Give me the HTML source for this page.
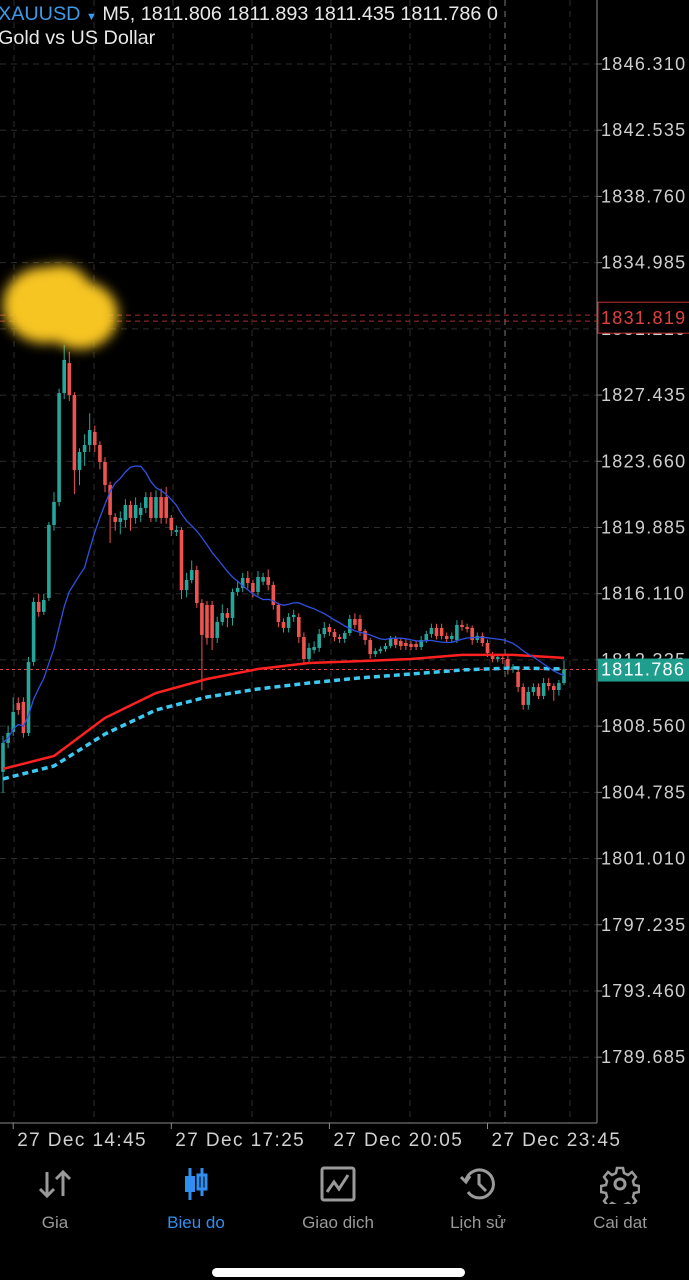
<!DOCTYPE html>
<html><head><meta charset="utf-8"><style>
html,body{margin:0;padding:0;background:#000;width:689px;height:1280px;overflow:hidden;font-family:"Liberation Sans",sans-serif}
svg{position:absolute;left:0;top:0}
.nav{position:absolute;top:1164px;width:120px;text-align:center;color:#9a9a9a;font-size:17px}
</style></head><body>
<svg id="chart" width="689" height="1280">
<defs><filter id="blur" x="-50%" y="-50%" width="200%" height="200%"><feGaussianBlur stdDeviation="6"/></filter></defs>
<g id="grid"></g><g id="lines"></g><g id="candles"></g><g id="mas"></g><g id="labels"></g>
</svg>
<div style="position:absolute;left:-2px;top:3px;font-size:19.8px;color:#e8e8e8;white-space:nowrap">
<span style="color:#3d9ae8">XAUUSD <span style="font-size:11px">▼</span></span> M5, 1811.806 1811.893 1811.435 1811.786 0<br>
<span style="line-height:24px">Gold vs US Dollar</span></div>

<div class="nav" style="left:-5px"><svg width="40" height="40" viewBox="0 0 40 40" style="position:static"><path d="M12 8v24M5 25l7 7 7-7M28 32V8M21 15l7-7 7 7" stroke="#9a9a9a" stroke-width="3" fill="none"/></svg><div style="margin-top:4px">Gia</div></div>
<div class="nav" style="left:136px;color:#2f8ef0"><svg width="40" height="40" viewBox="0 0 40 40" style="position:static"><path d="M14 4v32M26 4v28" stroke="#2f8ef0" stroke-width="3"/><rect x="9" y="12" width="10" height="16" fill="#2f8ef0"/><rect x="22" y="11" width="8" height="14" fill="none" stroke="#2f8ef0" stroke-width="3"/></svg><div style="margin-top:4px">Bieu do</div></div>
<div class="nav" style="left:278px"><svg width="40" height="40" viewBox="0 0 40 40" style="position:static"><rect x="4" y="4" width="32" height="32" rx="2" fill="none" stroke="#9a9a9a" stroke-width="3"/><path d="M9 28l7-10 5 7 9-14" stroke="#9a9a9a" stroke-width="3" fill="none"/></svg><div style="margin-top:4px">Giao dich</div></div>
<div class="nav" style="left:418px"><svg width="40" height="40" viewBox="0 0 40 40" style="position:static"><path d="M8 16A14 14 0 1 1 10 28" stroke="#9a9a9a" stroke-width="3" fill="none"/><path d="M3 13l5 5 4-6" stroke="#9a9a9a" stroke-width="3" fill="none"/><path d="M21 10v10l7 7" stroke="#9a9a9a" stroke-width="3" fill="none"/></svg><div style="margin-top:4px">Lịch sử</div></div>
<div class="nav" style="left:560px"><svg width="40" height="40" viewBox="0 0 40 40" style="position:static"><circle cx="20" cy="20" r="5" fill="none" stroke="#9a9a9a" stroke-width="3"/><path d="M17 4h6l1 5 4 2 4-3 4 5-3 4 1 4 5 1v6l-5 1-1 4 3 4-4 5-4-3-4 2-1 5h-6l-1-5-4-2-4 3-4-5 3-4-1-4-5-1v-6l5-1 1-4-3-4 4-5 4 3 4-2z" fill="none" stroke="#9a9a9a" stroke-width="2.5"/></svg><div style="margin-top:4px">Cai dat</div></div>
<div style="position:absolute;left:212px;top:1268px;width:253px;height:9px;border-radius:5px;background:#fff"></div>
<script>
const tickLabels=["1846.310","1842.535","1838.760","1834.985","1831.210","1827.435","1823.660","1819.885","1816.110","1812.335","1808.560","1804.785","1801.010","1797.235","1793.460","1789.685"];
const timeLabels=["27 Dec 14:45","27 Dec 17:25","27 Dec 20:05","27 Dec 23:45"];
const timeIdx=[2,33,64,95];
const opens=[1805.95,1807.60,1808.23,1809.88,1809.94,1808.17,1812.22,1815.64,1815.07,1815.87,1820.03,1821.34,1827.55,1829.26,1827.44,1823.16,1824.19,1824.59,1825.33,1824.59,1823.62,1822.31,1820.48,1820.20,1820.31,1821.17,1820.43,1820.60,1821.00,1821.62,1820.43,1821.62,1821.62,1820.43,1819.63,1819.74,1816.32,1816.89,1817.46,1815.58,1815.47,1815.47,1813.59,1814.50,1815.01,1814.73,1816.21,1816.44,1817.01,1816.72,1816.21,1816.80,1817.06,1816.61,1815.47,1814.50,1814.16,1814.78,1814.78,1813.64,1812.39,1812.90,1813.02,1813.81,1814.21,1813.93,1813.64,1813.53,1813.87,1814.67,1814.67,1813.99,1813.47,1812.67,1812.84,1812.95,1813.13,1813.53,1813.41,1813.30,1813.24,1813.24,1813.07,1813.47,1813.81,1814.16,1814.16,1813.70,1813.53,1813.47,1814.33,1814.21,1814.16,1813.47,1813.70,1813.30,1812.62,1812.39,1812.45,1812.39,1811.80,1811.65,1810.79,1809.77,1810.51,1810.79,1810.28,1811.02,1810.85,1810.62,1811.02];
const closes=[1807.60,1808.17,1809.37,1809.48,1808.17,1812.22,1815.64,1815.07,1815.75,1820.03,1821.34,1827.55,1829.44,1827.44,1823.16,1824.19,1824.59,1825.44,1824.59,1823.62,1822.31,1820.60,1820.20,1820.43,1821.17,1820.43,1821.17,1821.00,1821.62,1820.43,1821.62,1820.43,1820.43,1819.74,1819.74,1816.32,1816.89,1817.46,1815.58,1813.76,1813.59,1813.59,1814.50,1815.01,1814.73,1816.21,1816.44,1817.01,1816.72,1816.21,1817.06,1817.06,1816.61,1815.47,1814.50,1814.16,1814.78,1814.90,1813.64,1812.39,1813.02,1813.07,1813.81,1814.16,1813.93,1813.64,1813.53,1813.87,1814.67,1814.33,1813.99,1813.47,1812.67,1812.84,1812.95,1813.13,1813.53,1813.19,1813.13,1813.13,1813.07,1813.07,1813.47,1813.81,1814.16,1813.70,1813.70,1813.53,1813.70,1814.33,1814.21,1814.10,1813.47,1813.70,1813.30,1812.73,1812.39,1812.50,1812.39,1811.88,1811.95,1810.79,1809.77,1810.51,1810.79,1810.28,1811.02,1810.85,1810.62,1811.02,1811.79];
const highs=[1808.0,1808.6,1810.2,1810.2,1810.2,1812.5,1815.9,1816.1,1816.1,1820.2,1821.9,1827.8,1830.3,1829.9,1827.6,1824.4,1825.2,1826.4,1825.7,1824.8,1823.9,1822.5,1820.7,1820.8,1821.5,1821.4,1821.6,1821.3,1821.9,1821.9,1822.0,1822.1,1822.2,1820.6,1820.0,1819.9,1817.3,1818.0,1817.7,1815.8,1815.7,1815.7,1814.8,1815.5,1815.3,1816.4,1816.8,1817.3,1817.4,1816.9,1817.4,1817.3,1817.5,1816.8,1815.6,1814.7,1815.0,1815.2,1815.0,1813.9,1813.3,1813.4,1814.1,1814.5,1814.4,1814.1,1813.8,1814.0,1814.9,1815.0,1814.9,1814.1,1813.6,1813.0,1813.1,1813.3,1813.7,1813.7,1813.6,1813.5,1813.4,1813.4,1813.7,1814.0,1814.4,1814.4,1814.4,1813.9,1813.9,1814.6,1814.6,1814.4,1814.3,1813.9,1813.9,1813.5,1812.8,1812.7,1812.6,1812.6,1812.1,1811.8,1811.0,1810.8,1811.0,1811.0,1811.3,1811.3,1811.0,1811.2,1812.3];
const lows=[1804.75,1807.3,1808.0,1809.2,1807.9,1808.0,1812.0,1814.8,1814.9,1815.7,1819.7,1821.1,1827.2,1827.1,1821.8,1822.3,1823.4,1824.2,1824.2,1823.2,1821.9,1819.0,1819.7,1819.5,1819.9,1819.7,1820.1,1820.2,1820.7,1820.2,1820.2,1820.1,1820.1,1819.4,1819.4,1815.8,1815.9,1816.7,1815.3,1810.6,1813.2,1812.9,1813.3,1814.3,1814.2,1814.3,1816.0,1816.2,1816.4,1815.9,1816.0,1816.6,1816.3,1815.2,1814.2,1813.9,1813.9,1814.5,1813.3,1812.1,1812.2,1812.7,1812.8,1813.6,1813.7,1813.4,1813.3,1813.3,1813.7,1814.1,1813.7,1813.2,1812.4,1812.5,1812.7,1812.8,1813.0,1813.0,1812.9,1812.9,1812.9,1812.9,1812.9,1813.3,1813.6,1813.5,1813.5,1813.3,1813.3,1813.3,1814.0,1813.9,1813.2,1813.3,1813.1,1812.5,1812.2,1812.2,1812.1,1811.5,1811.6,1810.5,1809.5,1809.5,1810.3,1810.1,1810.1,1810.6,1810.0,1810.3,1810.9];
const maRed=[1806.12,1806.86,1809.03,1810.45,1811.25,1811.82,1812.16,1812.27,1812.39,1812.62,1812.62,1812.45];
const maCyan=[1805.55,1806.29,1808.11,1809.48,1810.22,1810.68,1811.02,1811.31,1811.53,1811.76,1811.88,1811.82];
const maStep=10, blueN=17;
const lastPrice=1811.786, alertPrice=1831.819;

const NS="http://www.w3.org/2000/svg";
const yOf=p=>64+(1846.31-p)*17.54;
const xOf=i=>3+i*5.1;
const FONT='Liberation Sans, sans-serif';
function mk(parent,tag,attrs){const e=document.createElementNS(NS,tag);for(const k in attrs)e.setAttribute(k,attrs[k]);document.getElementById(parent).appendChild(e);return e;}
const right=597;
tickLabels.forEach((t,k)=>{const y=yOf(parseFloat(t));
 const g=mk('grid','line',{x1:0,x2:right,y1:y,y2:y,stroke:'#2c2c2c','stroke-dasharray':'6 5'});
 
 
 mk('grid','line',{x1:right,x2:right+5,y1:y,y2:y,stroke:'#777'});
 const tx=mk('labels','text',{x:601,y:y+6,fill:'#cfcfcf','font-size':18,'font-family':FONT,'letter-spacing':'1.3'});
 tx.textContent=t;
 
 
});
[14,94,173,252,331,410,490,570].forEach(x=>{const g=mk('grid','line',{x1:x,x2:x,y1:0,y2:1123,stroke:'#2c2c2c','stroke-dasharray':'6 5'});
 
 });
const sep=mk('grid','line',{x1:505,x2:505,y1:0,y2:1123,stroke:'#777','stroke-dasharray':'6 5'});


mk('grid','line',{x1:right,x2:right,y1:0,y2:1123,stroke:'#888'});
mk('grid','line',{x1:0,x2:right,y1:1123,y2:1123,stroke:'#888'});
timeLabels.forEach((t,k)=>{const x=xOf(timeIdx[k]);
 mk('grid','line',{x1:x,x2:x,y1:1123,y2:1129,stroke:'#888'});
 const tx=mk('labels','text',{x:x+4,y:1146,fill:'#d0d0d0','font-size':19,'font-family':FONT,'letter-spacing':'1.4'});
 tx.textContent=t;
 
 });
opens.forEach((o,i)=>{const c=closes[i],x=xOf(i),up=c>=o,col=up?'#26a69a':'#ef5350';
 mk('candles','line',{x1:x,x2:x,y1:yOf(highs[i]),y2:yOf(lows[i]),stroke:col,'stroke-width':1});
 const top=yOf(Math.max(o,c)),h=Math.max(1,yOf(Math.min(o,c))-top);
 const r=mk('candles','rect',{x:x-1.8,y:top,width:3.6,height:h,fill:col});
 
 });
const pts=a=>a.map((v,k)=>xOf(k*maStep).toFixed(1)+','+yOf(v).toFixed(1)).join(' ');
const red=mk('mas','polyline',{points:pts(maRed),fill:'none',stroke:'#ff2020','stroke-width':2.5});


const cy=mk('mas','polyline',{points:pts(maCyan),fill:'none',stroke:'#3cc8f0','stroke-width':3.5,'stroke-dasharray':'6 4'});


const bp=closes.map((c,i)=>{const s=closes.slice(Math.max(0,i-blueN+1),i+1);const v=s.reduce((a,b)=>a+b,0)/s.length;return xOf(i).toFixed(1)+','+yOf(v).toFixed(1);}).join(' ');
const bl=mk('mas','polyline',{points:bp,fill:'none',stroke:'#3050e0','stroke-width':1.3});


const ay=yOf(alertPrice);
mk('lines','line',{x1:0,x2:right,y1:ay-3,y2:ay-3,stroke:'#a03030','stroke-dasharray':'5 4'});
mk('lines','line',{x1:0,x2:right,y1:ay+3,y2:ay+3,stroke:'#a03030','stroke-dasharray':'5 4'});
const lb=mk('labels','rect',{x:598,y:ay-16,width:92,height:31,fill:'#000',stroke:'#c03030'});


const at=mk('labels','text',{x:601,y:ay+6,fill:'#e04040','font-size':18,'font-family':FONT,'letter-spacing':'1.3'});at.textContent=alertPrice.toFixed(3);
const ly=yOf(lastPrice);
const lp=mk('lines','line',{x1:0,x2:right,y1:ly,y2:ly,stroke:'#e04040','stroke-dasharray':'3 3'});


const lr=mk('labels','rect',{x:598,y:ly-11,width:91,height:23,fill:'#1f9e8e'});


const lt=mk('labels','text',{x:601,y:ly+6,fill:'#fff','font-size':18,'font-family':FONT,'letter-spacing':'1.3'});lt.textContent=lastPrice.toFixed(3);
const bg=mk('labels','g',{filter:'url(#blur)'});


[[45,305,42,38],[80,315,38,34],[60,290,30,25]].forEach(e=>{const el=document.createElementNS(NS,'ellipse');el.setAttribute('cx',e[0]);el.setAttribute('cy',e[1]);el.setAttribute('rx',e[2]);el.setAttribute('ry',e[3]);el.setAttribute('fill','#f7c520');bg.appendChild(el);});
</script>
</body></html>
